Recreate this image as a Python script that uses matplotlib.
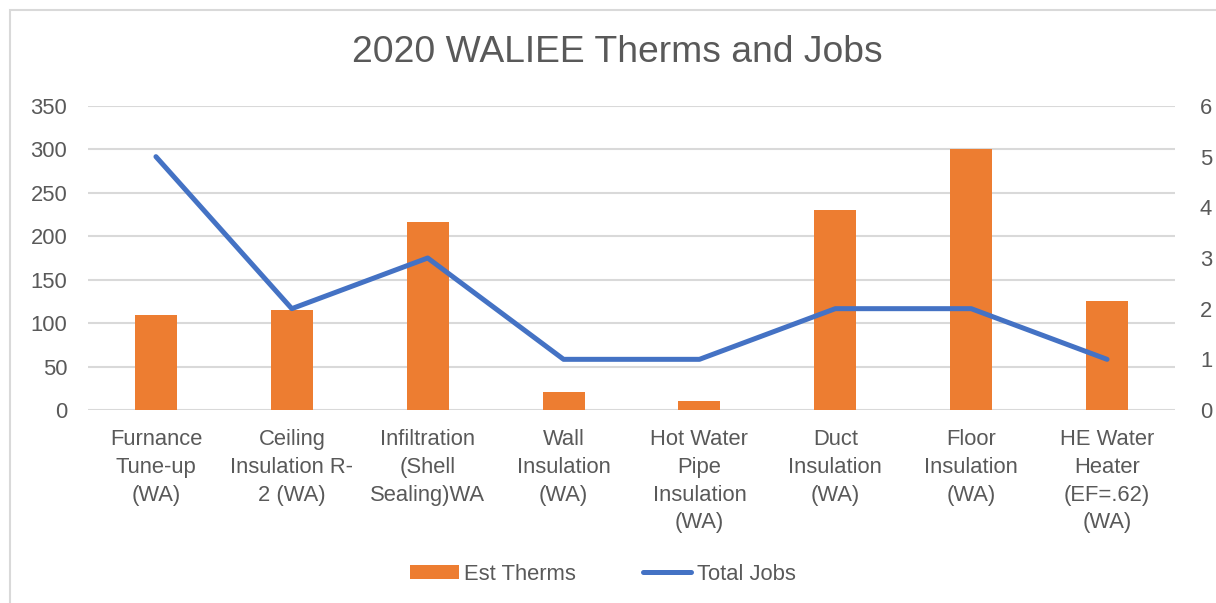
import matplotlib
matplotlib.use('Agg')
import matplotlib.pyplot as plt
from matplotlib.patches import Rectangle, Patch
from matplotlib.lines import Line2D
import numpy as np

plt.rcParams['font.family'] = ['Liberation Sans', 'DejaVu Sans']

categories = ['Furnance\nTune-up\n(WA)', 'Ceiling\nInsulation R-\n2 (WA)', 'Infiltration\n(Shell\nSealing)WA',
              'Wall\nInsulation\n(WA)', 'Hot Water\nPipe\nInsulation\n(WA)', 'Duct\nInsulation\n(WA)',
              'Floor\nInsulation\n(WA)', 'HE Water\nHeater\n(EF=.62)\n(WA)']
est_therms = [109, 115, 216, 21, 10, 230, 300, 125]
total_jobs = [5, 2, 3, 1, 1, 2, 2, 1]
left_ticks = [0, 50, 100, 150, 200, 250, 300, 350]
right_ticks = [0, 1, 2, 3, 4, 5, 6]

bar_color = '#ED7D31'
line_color = '#4472C4'
grid_color = '#D9D9D9'
text_color = '#595959'

fig = plt.figure(figsize=(12.16, 6.03), dpi=100)
# chart border
fig.patches.append(Rectangle((10 / 1216, -0.01), 1.0, 1 - 10 / 603 + 0.01, transform=fig.transFigure,
                             fill=False, edgecolor=grid_color, lw=1.5))

ax = fig.add_axes([88 / 1216, 1 - 410 / 603, (1175 - 88) / 1216, (410 - 106) / 603])
x = np.arange(len(categories))
ax.bar(x, est_therms, width=0.31, color=bar_color, zorder=2)
ax.set_ylim(0, 350)
ax.set_xlim(-0.5, len(categories) - 0.5)
ax.set_yticks(left_ticks)
ax.set_xticks(x)
ax.set_xticklabels(categories, fontsize=15.8, color=text_color, linespacing=1.43, va='top')
ax.tick_params(axis='y', labelsize=15.8, labelcolor=text_color, length=0, pad=15)
ax.tick_params(axis='x', length=0, pad=13.5)
ax.grid(axis='y', color=grid_color, lw=1.5, zorder=0)
ax.set_axisbelow(True)
for s in ax.spines.values():
    s.set_visible(False)

ax2 = ax.twinx()
ax2.plot(x, total_jobs, color=line_color, lw=3.6, solid_capstyle='round', solid_joinstyle='round', zorder=3)
ax2.set_ylim(0, 6)
ax2.set_yticks(right_ticks)
ax2.tick_params(axis='y', labelsize=15.8, labelcolor=text_color, length=0, pad=18)
for s in ax2.spines.values():
    s.set_visible(False)

fig.text(617 / 1216, 1 - 53 / 603, '2020 WALIEE Therms and Jobs', ha='center', va='center',
         fontsize=26.8, color=text_color)

handles = [Patch(facecolor=bar_color, edgecolor='none'),
           Line2D([0], [0], color=line_color, lw=3.6, solid_capstyle='round')]
fig.legend(handles, ['Est Therms', 'Total Jobs'], loc='center', bbox_to_anchor=(603 / 1216, 1 - 574 / 603),
           ncol=2, frameon=False, fontsize=15.8, labelcolor=text_color, handlelength=2.2, handleheight=0.6,
           handletextpad=0.25, columnspacing=3.05)

fig.savefig('out.png', dpi=100)
